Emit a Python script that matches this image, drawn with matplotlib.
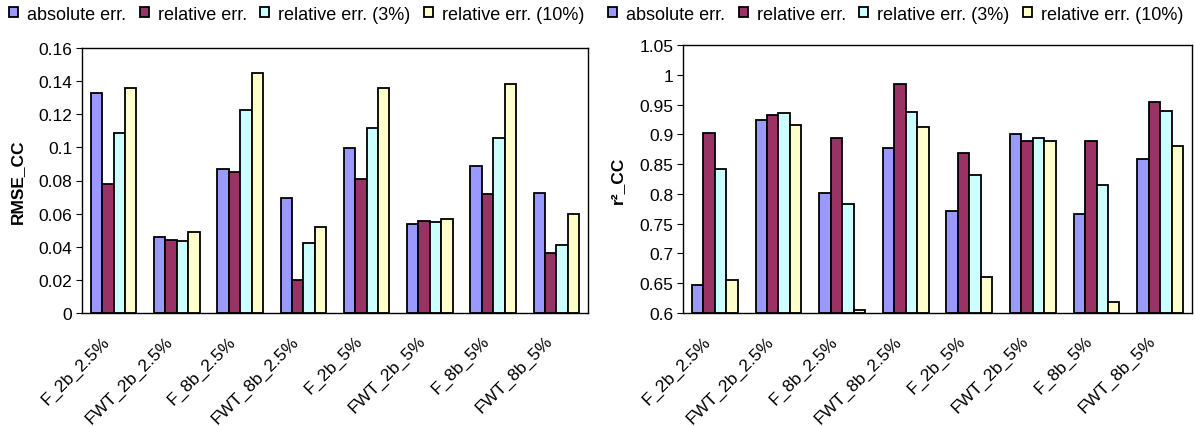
import matplotlib.pyplot as plt
import matplotlib.transforms as mtransforms
import numpy as np

plt.rcParams['font.family'] = ['Liberation Sans', 'DejaVu Sans']
plt.rcParams['font.size'] = 12.5

labels = ['F_2b_2.5%', 'FWT_2b_2.5%', 'F_8b_2.5%', 'FWT_8b_2.5%',
          'F_2b_5%', 'FWT_2b_5%', 'F_8b_5%', 'FWT_8b_5%']
series = ['absolute err.', 'relative err.', 'relative err. (3%)', 'relative err. (10%)']
colors = ['#9999FF', '#993366', '#CCFFFF', '#FFFFCC']

# RMSE_CC values per series
rmse_abs = [0.133, 0.0458, 0.0872, 0.0693, 0.0997, 0.0539, 0.089, 0.0726]
rmse_rel = [0.078, 0.0442, 0.0852, 0.0197, 0.0812, 0.0557, 0.0716, 0.0362]
rmse_3 = [0.1085, 0.0432, 0.1224, 0.0422, 0.1116, 0.0547, 0.1057, 0.041]
rmse_10 = [0.136, 0.049, 0.145, 0.0517, 0.136, 0.0569, 0.138, 0.0599]

# r^2_CC values per series
r2_abs = [0.6464, 0.9244, 0.8019, 0.8774, 0.7711, 0.900, 0.766, 0.8584]
r2_rel = [0.902, 0.9322, 0.8936, 0.9847, 0.869, 0.889, 0.888, 0.954]
r2_3 = [0.8422, 0.935, 0.7829, 0.9378, 0.831, 0.8937, 0.8148, 0.940]
r2_10 = [0.6554, 0.9154, 0.6056, 0.9128, 0.6598, 0.889, 0.6185, 0.880]

W, H = 1195, 427
fig = plt.figure(figsize=(W / 100, H / 100), dpi=100)
ax1 = fig.add_axes([82/W, 1-314/H, 506/W, 265/H])
ax2 = fig.add_axes([683/W, 1-314/H, 509/W, 268/H])

x = np.arange(len(labels))
w = 0.18
# category labels sit a bit left of and below each group centre
shift = mtransforms.ScaledTranslation(-12/100, -20/100, fig.dpi_scale_trans)


def draw(ax, data, ylim, yticks, ylabel, ticklabels, legx):
    for i, (vals, c, name) in enumerate(zip(data, colors, series)):
        ax.bar(x + (i - 1.5) * w, np.array(vals) - ylim[0], w, bottom=ylim[0],
               color=c, edgecolor='black', linewidth=1.3, label=name)
    ax.set_xlim(-0.5, len(labels) - 0.5)
    ax.set_ylim(*ylim)
    ax.set_yticks(yticks)
    ax.set_yticklabels(ticklabels, fontsize=12.5)
    ax.set_xticks(x)
    ax.set_xticklabels([])
    for xi, lab in zip(x, labels):
        ax.text(xi, 0, lab, transform=ax.get_xaxis_transform() + shift,
                rotation=45, ha='right', va='top', rotation_mode='anchor',
                fontsize=12.5)
    ax.tick_params(axis='x', length=0)
    ax.tick_params(axis='y', length=4, direction='out', pad=3)
    ax.set_ylabel(ylabel, fontweight='bold', fontsize=12.5, labelpad=10)
    for s in ax.spines.values():
        s.set_linewidth(1)
    ax.legend(loc='center left', bbox_to_anchor=(legx / W, 1 - 15 / H),
              bbox_transform=fig.transFigure, ncol=4, frameon=False,
              handlelength=0.5, handleheight=0.5, handletextpad=0.5,
              columnspacing=0.75, borderaxespad=0, borderpad=0, fontsize=13)


draw(ax1, [rmse_abs, rmse_rel, rmse_3, rmse_10], (0, 0.16),
     [0, 0.02, 0.04, 0.06, 0.08, 0.1, 0.12, 0.14, 0.16], 'RMSE_CC',
     ['0', '0.02', '0.04', '0.06', '0.08', '0.1', '0.12', '0.14', '0.16'], 9)
draw(ax2, [r2_abs, r2_rel, r2_3, r2_10], (0.6, 1.05),
     [0.6, 0.65, 0.7, 0.75, 0.8, 0.85, 0.9, 0.95, 1.0, 1.05], 'r²_CC',
     ['0.6', '0.65', '0.7', '0.75', '0.8', '0.85', '0.9', '0.95', '1', '1.05'], 608)

fig.savefig('out.png', dpi=100)
